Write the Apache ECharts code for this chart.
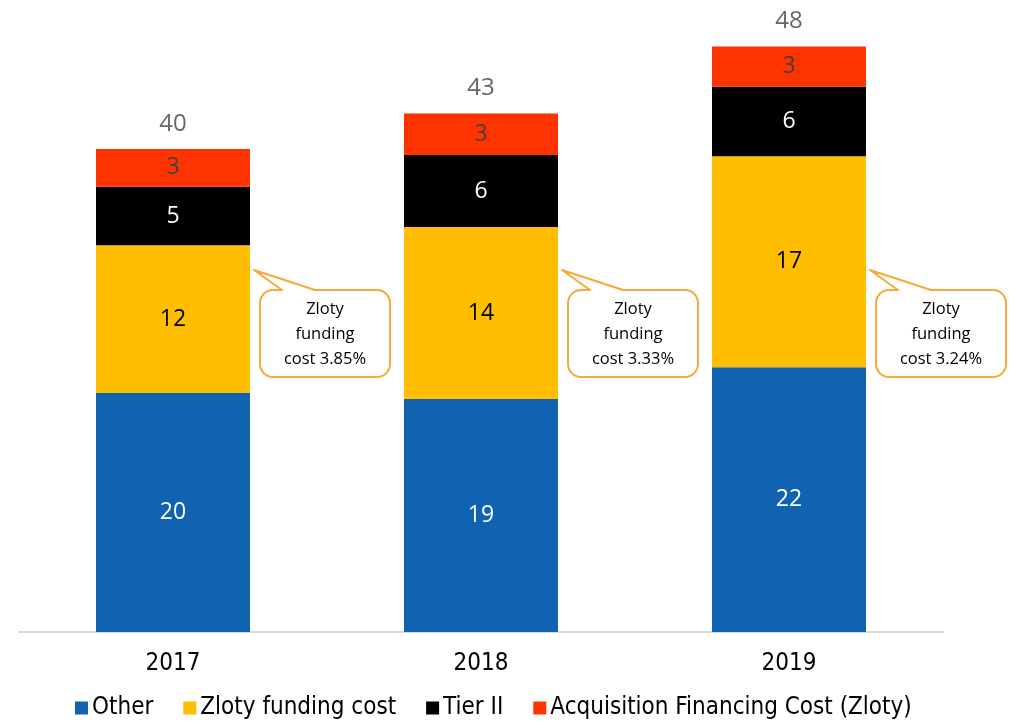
<!DOCTYPE html>
<html><head><meta charset="utf-8">
<script src="https://cdn.jsdelivr.net/npm/echarts@6/dist/echarts.min.js"></script>
<style>html,body{margin:0;padding:0;background:#fff}#c{width:1016px;height:721px}</style>
</head><body><div id="c"></div>
<script>
const categories = ['2017', '2018', '2019'];
const other = [19.6, 19.1, 21.7];
const zlotyFunding = [12.1, 14.1, 17.3];
const tierII = [4.8, 5.9, 5.7];
const acquisition = [3.1, 3.4, 3.3];
const callouts = ['Zloty\nfunding\ncost 3.85%', 'Zloty\nfunding\ncost 3.33%', 'Zloty\nfunding\ncost 3.24%'];
const totals = categories.map((c, i) => other[i] + zlotyFunding[i] + tierII[i] + acquisition[i]);

const numFont = "'Open Sans', 'Noto Sans', sans-serif";
const narrowFont = "'Liberation Sans Narrow', 'DejaVu Sans Condensed', sans-serif";

const chart = echarts.init(document.getElementById('c'), null, {renderer: 'canvas'});
function barSeries(name, data, color, labelColor) {
  return {
    name, type: 'bar', stack: 'total', data, barWidth: '50%',
    itemStyle: {color},
    label: {show: true, position: 'inside', color: labelColor, fontSize: 23, fontFamily: numFont,
      formatter: p => Math.round(p.value)}
  };
}
chart.setOption({
  animation: false,
  grid: {left: 19, right: 73, top: 22, bottom: 89},
  xAxis: {type: 'category', data: categories,
    axisLine: {lineStyle: {color: '#d9d9d9', width: 2}}, axisTick: {show: false},
    axisLabel: {color: '#000', fontSize: 24, fontFamily: narrowFont, margin: 20}},
  yAxis: {type: 'value', min: 0, max: 50, show: false, splitLine: {show: false}},
  legend: {bottom: -4, left: 70, itemWidth: 13, itemHeight: 13, itemGap: 30, icon: 'rect',
    data: ['Other', 'Zloty funding cost', 'Tier II', 'Acquisition Financing Cost (Zloty)'],
    textStyle: {fontSize: 24, fontFamily: narrowFont, color: '#000', padding: [0, 0, 0, -1]}},
  series: [
    barSeries('Other', other, '#0f63b1', '#fff'),
    barSeries('Zloty funding cost', zlotyFunding, '#ffbf00', '#000'),
    barSeries('Tier II', tierII, '#000000', '#fff'),
    barSeries('Acquisition Financing Cost (Zloty)', acquisition, '#ff3300', '#404040'),
    {name: 'Total', type: 'scatter', data: totals, symbolSize: 0, silent: true,
      label: {show: true, position: 'top', distance: 13, color: '#404040', fontSize: 24, fontFamily: numFont,
        formatter: p => Math.round(p.value)}}
  ]
});

// callouts positioned relative to each bar's right edge
const grid = chart.getModel().getComponent('grid').coordinateSystem.getRect();
const band = grid.width / categories.length;
function arcPts(cx, cy, r, a0, a1) {
  const pts = [];
  for (let k = 0; k <= 8; k++) {
    const a = a0 + (a1 - a0) * k / 8;
    pts.push([cx + r * Math.cos(a), cy + r * Math.sin(a)]);
  }
  return pts;
}
const elements = [];
categories.forEach((c, i) => {
  const cx = chart.convertToPixel({xAxisIndex: 0}, c);
  const x0 = cx + band * 0.25 + 10, y0 = 290, w = 130, h = 87, r = 13;
  const tipX = x0 - 6, tipY = 270;
  const P = Math.PI;
  const pts = [].concat(
    arcPts(x0 + r, y0 + r, r, P, 1.5 * P),
    [[x0 + 22, y0], [tipX, tipY], [x0 + 55, y0]],
    arcPts(x0 + w - r, y0 + r, r, 1.5 * P, 2 * P),
    arcPts(x0 + w - r, y0 + h - r, r, 0, 0.5 * P),
    arcPts(x0 + r, y0 + h - r, r, 0.5 * P, P)
  );
  elements.push({type: 'polygon', shape: {points: pts}, style: {fill: '#fff', stroke: '#f9a83a', lineWidth: 2, lineJoin: 'round'}, z: 10});
  elements.push({type: 'text', x: x0 + w / 2, y: y0 + h / 2 + 1, z: 11,
    style: {text: callouts[i], fill: '#000', fontSize: 16.5, lineHeight: 25, fontFamily: numFont,
      align: 'center', verticalAlign: 'middle'}});
});
chart.setOption({graphic: {elements}});
</script></body></html>
